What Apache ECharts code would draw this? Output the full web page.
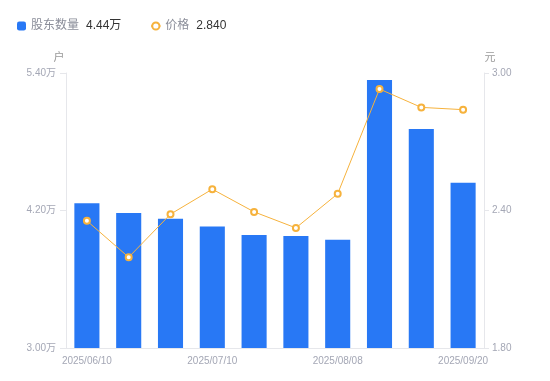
<!DOCTYPE html>
<html>
<head>
<meta charset="utf-8">
<script src="https://cdn.jsdelivr.net/npm/echarts@6/dist/echarts.min.js"></script>
<style>
  html, body { margin: 0; padding: 0; background: #fff; }
  #chart { width: 550px; height: 381px; }
</style>
</head>
<body>
<div id="chart"></div>
<script>
// 日期（只有 0/3/6/9 这几个标签能看清，中间的是估计）
const dates = [
  '2025/06/10', '2025/06/20', '2025/06/30', '2025/07/10', '2025/07/20',
  '2025/07/31', '2025/08/08', '2025/08/20', '2025/08/31', '2025/09/20',
]
// 股东户数（户）
const holders = [42640, 41790, 41270, 40600, 39870, 39780, 39440, 53390, 49110, 44420]
// 股价（元）
const prices = [2.355, 2.196, 2.384, 2.493, 2.394, 2.324, 2.473, 2.930, 2.850, 2.840]

const leftTicks = { min: 30000, max: 54000, interval: 12000 }
const rightTicks = { min: 1.8, max: 3.0, interval: 0.6 }

const FONT = '"Liberation Sans", "Noto Sans CJK SC", sans-serif'
const BLUE = '#2878f5'
const ORANGE = '#f6b23c'
const LABEL = '#a4a7b5'
const AXIS = '#e6e7eb'

const wan = (v) => (v / 10000).toFixed(2) + '万'
const latest = {
  股东数量: wan(holders[holders.length - 1]),
  价格: prices[prices.length - 1].toFixed(3),
}

const chart = echarts.init(document.getElementById('chart'))
chart.setOption({
  animation: false,
  textStyle: { fontFamily: FONT },
  legend: {
    left: 12,
    top: 15,
    itemWidth: 9,
    itemHeight: 9,
    itemGap: 29,
    formatter: (name) => `{n|${name}}{v|${latest[name]}}`,
    textStyle: {
      fontFamily: FONT,
      rich: {
        n: { color: '#8a8d99', fontSize: 12, fontFamily: FONT },
        v: { color: '#333', fontSize: 12, fontFamily: FONT, padding: [0, 0, 0, 7] },
      },
    },
    data: [
      { name: '股东数量', icon: 'roundRect' },
      { name: '价格' },
    ],
  },
  grid: { left: 66, right: 66, top: 73, bottom: 33 },
  xAxis: {
    type: 'category',
    data: dates,
    axisLine: { lineStyle: { color: AXIS } },
    axisTick: { show: false },
    axisLabel: { interval: 2, color: LABEL, fontSize: 10, margin: 8, fontFamily: FONT },
  },
  yAxis: [
    {
      type: 'value',
      name: '户',
      nameGap: 10,
      nameTextStyle: { color: '#999', fontSize: 11, padding: [0, 14, 0, 0], fontFamily: FONT },
      ...leftTicks,
      axisLine: { show: true, lineStyle: { color: AXIS } },
      axisTick: { show: true, length: 6, lineStyle: { color: AXIS } },
      splitLine: { show: false },
      axisLabel: { color: LABEL, fontSize: 10, margin: 10, formatter: wan, fontFamily: FONT },
    },
    {
      type: 'value',
      name: '元',
      nameGap: 10,
      nameTextStyle: { color: '#999', fontSize: 11, padding: [0, 0, 0, 12], fontFamily: FONT },
      ...rightTicks,
      axisLine: { show: true, lineStyle: { color: AXIS } },
      axisTick: { show: true, length: 5, lineStyle: { color: AXIS } },
      splitLine: { show: false },
      axisLabel: { color: LABEL, fontSize: 10, margin: 8, formatter: (v) => v.toFixed(2), fontFamily: FONT },
    },
  ],
  series: [
    {
      name: '股东数量',
      type: 'bar',
      barWidth: '60%',
      data: holders,
      itemStyle: { color: BLUE },
    },
    {
      name: '价格',
      type: 'line',
      yAxisIndex: 1,
      data: prices,
      symbol: 'emptyCircle',
      symbolSize: 6,
      lineStyle: { color: ORANGE, width: 1 },
      itemStyle: { color: ORANGE, borderColor: ORANGE, borderWidth: 2 },
    },
  ],
})
</script>
</body>
</html>
